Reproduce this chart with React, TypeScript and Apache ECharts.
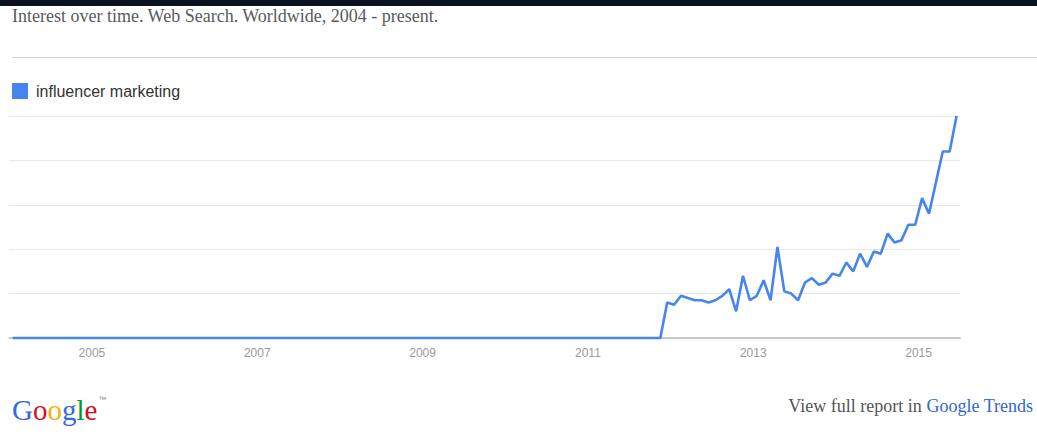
import React, { useEffect, useRef } from "react";
import * as echarts from "echarts";

// Monthly categories, Jan 2004 – Jun 2015
const years = [2004, 2005, 2006, 2007, 2008, 2009, 2010, 2011, 2012, 2013, 2014, 2015];
const monthCodes = ["01", "02", "03", "04", "05", "06", "07", "08", "09", "10", "11", "12"];

// Search interest for "influencer marketing"
const interest = [
  // 2004
  0, 0, 0, 0, 0, 0, 0, 0, 0, 0, 0, 0,
  // 2005
  0, 0, 0, 0, 0, 0, 0, 0, 0, 0, 0, 0,
  // 2006
  0, 0, 0, 0, 0, 0, 0, 0, 0, 0, 0, 0,
  // 2007
  0, 0, 0, 0, 0, 0, 0, 0, 0, 0, 0, 0,
  // 2008
  0, 0, 0, 0, 0, 0, 0, 0, 0, 0, 0, 0,
  // 2009
  0, 0, 0, 0, 0, 0, 0, 0, 0, 0, 0, 0,
  // 2010
  0, 0, 0, 0, 0, 0, 0, 0, 0, 0, 0, 0,
  // 2011
  0, 0, 0, 0, 0, 0, 0, 0, 0, 0, 0, 16,
  // 2012
  15, 19, 18, 17, 17, 16, 17, 19, 22, 12, 28, 17,
  // 2013
  19, 26, 17, 41, 21, 20, 17, 25, 27, 24, 25, 29,
  // 2014
  28, 34, 30, 38, 32, 39, 38, 47, 43, 44, 51, 51,
  // 2015
  63, 56, 70, 84, 84, 100,
];

const tickYears = ["2005", "2007", "2009", "2011", "2013", "2015"];
const seriesName = "influencer marketing";
const titleText = "Interest over time. Web Search. Worldwide, 2004 - present.";

const categories: string[] = years
  .flatMap((y) => monthCodes.map((m) => `${y}-${m}`))
  .slice(0, interest.length);

const serif = "Liberation Serif, Times New Roman, serif";
const sans = "Liberation Sans, Arial, sans-serif";

export default function App() {
  const ref = useRef<HTMLDivElement>(null);

  useEffect(() => {
    if (!ref.current) return;
    const chart = echarts.init(ref.current, undefined, { renderer: "svg" });
    chart.setOption({
      animation: false,
      backgroundColor: "#ffffff",
      color: ["#4684ee"],
      legend: {
        left: 12,
        top: 83,
        padding: 0,
        icon: "rect",
        itemWidth: 16,
        itemHeight: 16,
        selectedMode: false,
        textStyle: {
          fontFamily: sans,
          fontSize: 16,
          color: "#333333",
          padding: [0, 0, 0, 3],
        },
        data: [seriesName],
      },
      grid: {
        left: 9.3,
        right: 77,
        top: 116,
        height: 222,
        containLabel: false,
      },
      xAxis: {
        type: "category",
        data: categories,
        boundaryGap: true,
        axisLine: { show: true, lineStyle: { color: "#c8c8c8", width: 2 } },
        axisTick: { show: false },
        splitLine: { show: false },
        axisLabel: {
          interval: (_i: number, value: string) =>
            value.endsWith("-01") && tickYears.includes(value.slice(0, 4)),
          formatter: (value: string) => value.slice(0, 4),
          color: "#9a9a9a",
          fontFamily: sans,
          fontSize: 12,
          margin: 9,
          padding: [0, 7, 0, 0],
        },
      },
      yAxis: {
        type: "value",
        min: 0,
        max: 100,
        interval: 20,
        axisLine: { show: false },
        axisTick: { show: false },
        axisLabel: { show: false },
        splitLine: { show: true, lineStyle: { color: "#e8e8e8", width: 1 } },
      },
      series: [
        {
          name: seriesName,
          type: "line",
          data: interest,
          showSymbol: false,
          clip: false,
          lineStyle: { width: 2.6, color: "#4684ee" },
          itemStyle: { color: "#4684ee" },
          z: 5,
        },
      ],
      graphic: [
        {
          type: "rect",
          left: 0,
          top: 0,
          shape: { width: 1037, height: 6 },
          style: { fill: "#0b1220" },
        },
        {
          type: "text",
          left: 12,
          top: 7,
          style: {
            text: titleText,
            fontFamily: serif,
            fontSize: 18,
            fill: "#5a5a5a",
          },
        },
        {
          type: "line",
          shape: { x1: 12, y1: 57.5, x2: 1037, y2: 57.5 },
          style: { stroke: "#d4d4d4", lineWidth: 1 },
        },
        {
          type: "text",
          x: 12,
          y: 410,
          style: {
            text: "{b|G}{r|o}{y|o}{b|g}{g|l}{r|e}{tm|™}",
            verticalAlign: "middle",
            rich: {
              b: { fill: "#3369e8", fontSize: 29, fontFamily: serif },
              r: { fill: "#d50f25", fontSize: 29, fontFamily: serif },
              y: { fill: "#eeb211", fontSize: 29, fontFamily: serif },
              g: { fill: "#009925", fontSize: 29, fontFamily: serif },
              tm: { fill: "#8a8a8a", fontSize: 8, fontFamily: sans, verticalAlign: "top", padding: [0, 0, 10, 1] },
            },
          },
        },
        {
          type: "text",
          x: 1033,
          y: 406,
          style: {
            text: "{a|View full report in }{l|Google Trends}",
            align: "right",
            verticalAlign: "middle",
            rich: {
              a: { fill: "#555555", fontSize: 18, fontFamily: serif },
              l: { fill: "#3366cc", fontSize: 18, fontFamily: serif },
            },
          },
        },
      ],
    });
    return () => chart.dispose();
  }, []);

  return (
    <div
      ref={ref}
      style={{ position: "absolute", left: 0, top: 0, width: 1037, height: 436 }}
    />
  );
}
